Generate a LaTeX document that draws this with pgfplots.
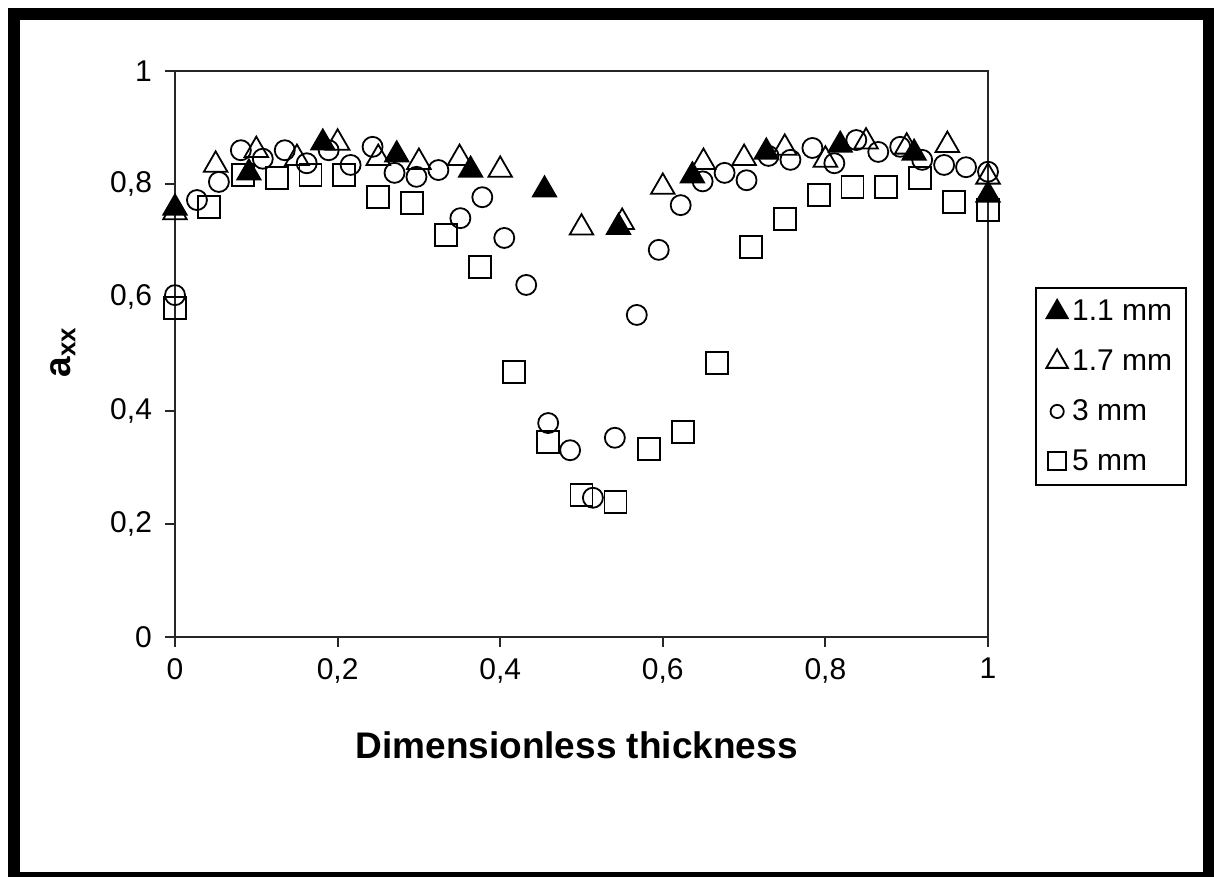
\documentclass[border=0pt]{standalone}
\usepackage{fontspec}
\setmainfont{Liberation Sans}
\usepackage{pgfplots}
\pgfplotsset{compat=1.18}
\begin{document}
\begin{tikzpicture}
\fill[black] (4pt,0pt) rectangle (607pt,434.5pt);
\fill[white] (10pt,2.5pt) rectangle (601.5pt,428.5pt);
\path (0pt,0pt) rectangle (607pt,438.5pt);
\begin{axis}[
  at={(87.5pt,120pt)}, anchor=south west,
  scale only axis, width=406.5pt, height=283pt,
  xmin=0, xmax=1, ymin=0, ymax=1,
  xtick={0,0.2,0.4,0.6,0.8,1},
  ytick={0,0.2,0.4,0.6,0.8,1},
  tick align=outside, xtick pos=left, ytick pos=left,
  major tick length=5pt,
  axis line style={line width=1pt, black!85},
  every tick/.style={line width=1pt, black!85},
  /pgf/number format/use comma,
  /pgf/number format/assume math mode=true,
  tick label style={font=\fontsize{15}{18}\selectfont},
  xticklabel style={yshift=-2pt},
  yticklabel style={xshift=-3pt},
  xlabel={\textbf{Dimensionless thickness}},
  xlabel style={font=\fontsize{18.5}{22}\selectfont, at={(axis description cs:0.494,-0.191)}, anchor=center},
  ylabel={\textbf{a\textsubscript{xx}}},
  ylabel style={font=\fontsize{18.5}{22}\selectfont, at={(axis description cs:-0.138,0.503)}, anchor=center},
  legend style={at={(1.058,0.618)}, anchor=north west, draw=black, line width=1pt,
     font=\fontsize{15}{18}\selectfont, row sep=9pt, inner xsep=5pt, inner ysep=4pt},
  legend cell align=left,
  legend image code/.code={\path[draw=none,fill=none] (-5.5pt,-0.1pt) rectangle (5.5pt,0.1pt); \draw plot coordinates {(0cm,0cm)};},
]
\addplot[only marks, mark=triangle*, mark size=6.8pt, mark options={fill=black, draw=black, line width=0.8pt}, legend image post style={mark size=6.2pt}] coordinates {
(0,0.758) (0.0909,0.820) (0.1818,0.873) (0.2727,0.852) (0.3636,0.825) (0.4545,0.790)
(0.5455,0.724) (0.6364,0.815) (0.7273,0.857) (0.8182,0.869) (0.9091,0.855) (1,0.781)
};
\addlegendentry{1.1 mm}
\addplot[only marks, mark=triangle, mark size=6.8pt, mark options={draw=black, line width=0.9pt}, legend image post style={mark size=6.2pt}] coordinates {
(0,0.750) (0.05,0.834) (0.10,0.860) (0.15,0.846) (0.20,0.873) (0.25,0.846) (0.30,0.839)
(0.35,0.846) (0.40,0.825) (0.50,0.723) (0.55,0.733) (0.60,0.795) (0.65,0.839)
(0.70,0.846) (0.75,0.864) (0.80,0.843) (0.85,0.875) (0.90,0.866) (0.95,0.869) (1,0.813)
};
\addlegendentry{1.7 mm}
\addplot[only marks, mark=o, mark size=5pt, mark options={draw=black, line width=0.9pt}, legend image post style={mark size=3.3pt}] coordinates {
(0,0.604) (0.027,0.772) (0.054,0.804) (0.081,0.860) (0.108,0.845) (0.135,0.860)
(0.162,0.837) (0.189,0.860) (0.216,0.834) (0.243,0.866) (0.270,0.820) (0.297,0.813)
(0.324,0.825) (0.351,0.740) (0.378,0.777) (0.405,0.705) (0.432,0.622) (0.459,0.378)
(0.486,0.330) (0.514,0.246) (0.541,0.352) (0.568,0.569) (0.595,0.684) (0.622,0.763)
(0.649,0.805) (0.676,0.820) (0.703,0.807) (0.730,0.850) (0.757,0.843) (0.784,0.864)
(0.811,0.837) (0.838,0.878) (0.865,0.857) (0.892,0.866) (0.919,0.843) (0.946,0.834)
(0.973,0.830) (1,0.822)
};
\addlegendentry{3 mm}
\addplot[only marks, mark=square, mark size=5.5pt, mark options={draw=black, line width=0.9pt}, legend image post style={mark size=4.5pt}] coordinates {
(0,0.581) (0.0417,0.760) (0.0833,0.816) (0.125,0.811) (0.1667,0.816) (0.2083,0.816)
(0.25,0.777) (0.2917,0.767) (0.3333,0.710) (0.375,0.654) (0.4167,0.468) (0.4583,0.345)
(0.5,0.251) (0.5417,0.239) (0.5833,0.332) (0.625,0.362) (0.6667,0.484) (0.7083,0.689)
(0.75,0.739) (0.7917,0.781) (0.8333,0.795) (0.875,0.795) (0.9167,0.811) (0.9583,0.769)
(1,0.754)
};
\addlegendentry{5 mm}
\end{axis}
\end{tikzpicture}
\end{document}
